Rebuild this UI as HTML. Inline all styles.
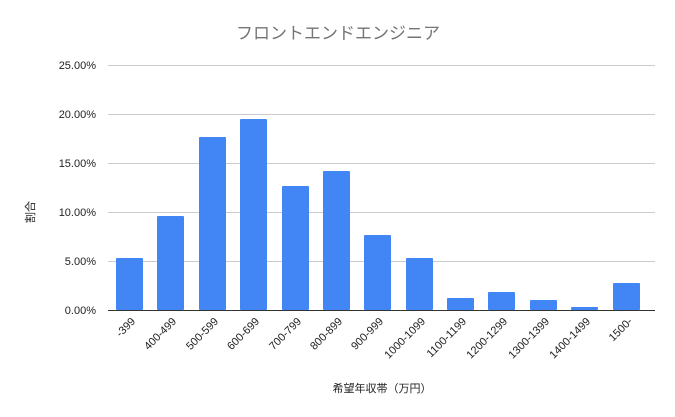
<!DOCTYPE html>
<html><head><meta charset="utf-8"><style>
html,body{margin:0;padding:0;background:#fff;}
svg{display:block;font-family:"Liberation Sans","Noto Sans CJK JP",sans-serif;}
</style></head><body>
<svg width="675" height="417" viewBox="0 0 675 417" xmlns="http://www.w3.org/2000/svg">
<rect width="675" height="417" fill="#fff"/>
<text x="338" y="39" text-anchor="middle" font-size="17" fill="#757575">フロントエンドエンジニア</text>
<g stroke="#cccccc" stroke-width="1">
<line x1="108" x2="655" y1="65.5" y2="65.5"/>
<line x1="108" x2="655" y1="114.5" y2="114.5"/>
<line x1="108" x2="655" y1="163.5" y2="163.5"/>
<line x1="108" x2="655" y1="212.5" y2="212.5"/>
<line x1="108" x2="655" y1="261.5" y2="261.5"/>
</g>
<g font-size="11" fill="#222" text-anchor="end">
<text x="96" y="69">25.00%</text>
<text x="96" y="118">20.00%</text>
<text x="96" y="167">15.00%</text>
<text x="96" y="216">10.00%</text>
<text x="96" y="265">5.00%</text>
<text x="96" y="314">0.00%</text>
</g>
<g fill="#4285f4">
<rect x="116" y="258" width="27" height="52" rx="1"/>
<rect x="157" y="216" width="27" height="94" rx="1"/>
<rect x="199" y="137" width="27" height="173" rx="1"/>
<rect x="240" y="119" width="27" height="191" rx="1"/>
<rect x="282" y="186" width="27" height="124" rx="1"/>
<rect x="323" y="171" width="27" height="139" rx="1"/>
<rect x="364" y="235" width="27" height="75" rx="1"/>
<rect x="406" y="258" width="27" height="52" rx="1"/>
<rect x="447" y="298" width="27" height="12" rx="1"/>
<rect x="488" y="292" width="27" height="18" rx="1"/>
<rect x="530" y="300" width="27" height="10" rx="1"/>
<rect x="571" y="307" width="27" height="3" rx="1"/>
<rect x="613" y="283" width="27" height="27" rx="1"/>
</g>
<line x1="108" x2="655" y1="310.5" y2="310.5" stroke="#333" stroke-width="1"/>
<g font-size="11" fill="#222" text-anchor="end">
<text transform="translate(136,322) rotate(-45)">-399</text>
<text transform="translate(177,322) rotate(-45)">400-499</text>
<text transform="translate(219,322) rotate(-45)">500-599</text>
<text transform="translate(260,322) rotate(-45)">600-699</text>
<text transform="translate(302,322) rotate(-45)">700-799</text>
<text transform="translate(343,322) rotate(-45)">800-899</text>
<text transform="translate(384,322) rotate(-45)">900-999</text>
<text transform="translate(426,322) rotate(-45)">1000-1099</text>
<text transform="translate(467,322) rotate(-45)">1100-1199</text>
<text transform="translate(508,322) rotate(-45)">1200-1299</text>
<text transform="translate(550,322) rotate(-45)">1300-1399</text>
<text transform="translate(591,322) rotate(-45)">1400-1499</text>
<text transform="translate(633,322) rotate(-45)">1500-</text>
</g>
<text x="382" y="392" text-anchor="middle" font-size="11" fill="#222">希望年収帯（万円）</text>
<text transform="translate(34,212) rotate(-90)" text-anchor="middle" font-size="11" fill="#222">割合</text>
</svg>
</body></html>
